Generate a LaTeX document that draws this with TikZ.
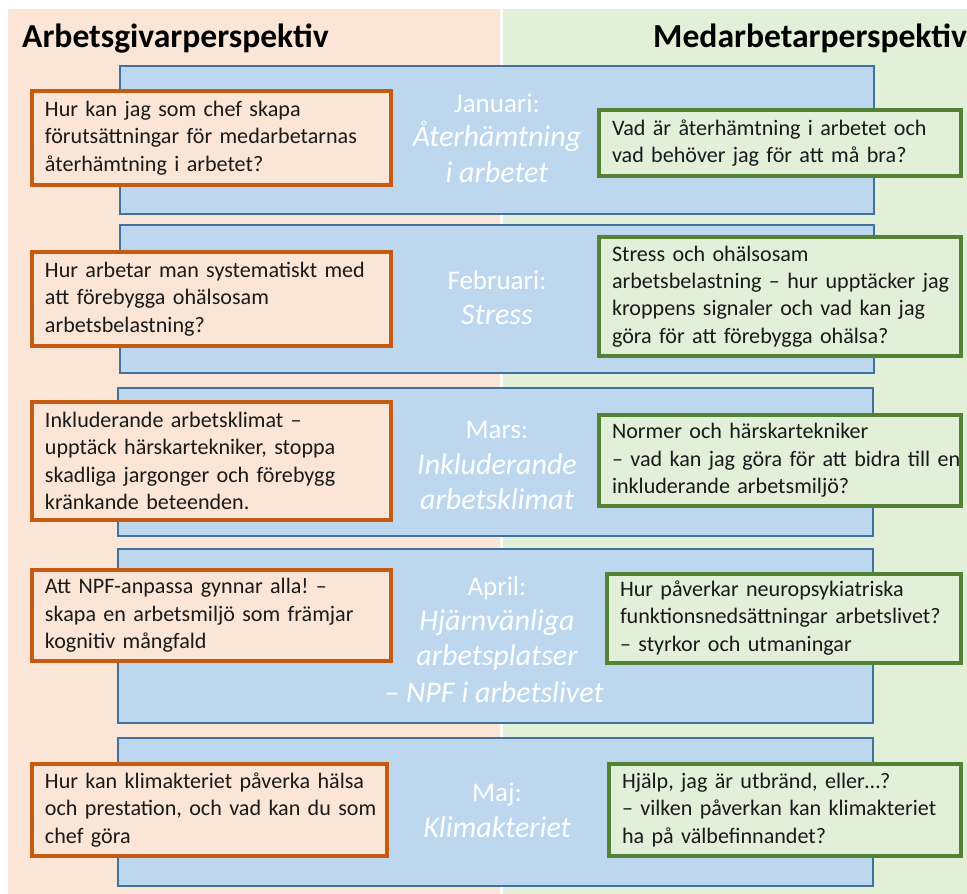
\documentclass[tikz,border=0pt]{standalone}
\usepackage{fontspec}
\setmainfont{Carlito}
\frenchspacing
\definecolor{peach}{HTML}{FBE5D6}
\definecolor{mint}{HTML}{E2F0D9}
\definecolor{skyfill}{HTML}{BDD7EE}
\definecolor{skyline}{HTML}{41719C}
\definecolor{rust}{HTML}{C55A11}
\definecolor{leaf}{HTML}{548235}
\definecolor{ink}{HTML}{1A1A1A}
% one unbreakable line of box text
\newcommand\boxline[1]{\mbox{#1}}
\tikzset{
  monthbox/.style={fill=skyfill, draw=skyline, line width=2pt},
  askbox/.style={draw=rust, fill=peach, line width=4pt, align=left, text=ink,
    inner xsep=13pt, inner ysep=0pt, font=\fontsize{22.1}{27.3}\selectfont},
  staffbox/.style={draw=leaf, fill=mint, line width=4pt, align=left, text=ink,
    inner xsep=13pt, inner ysep=0pt, font=\fontsize{22.1}{27.3}\selectfont},
  monthname/.style={anchor=base, text=white, inner sep=0pt, font=\fontsize{27}{30}\selectfont},
  theme/.style={anchor=base, text=white, inner sep=0pt, font=\fontsize{30}{34}\selectfont\itshape},
  heading/.style={anchor=base west, inner sep=0pt, text=black, font=\fontsize{33.6}{38}\selectfont\bfseries}
}
\begin{document}
\begin{tikzpicture}[x=1pt, y=-1pt]
\useasboundingbox (0,0) rectangle (967,894);
\clip (0,0) rectangle (967,894);
\fill[white] (0,0) rectangle (967,894);
% two perspective columns
\fill[peach] (8,9) rectangle (500,894);
\fill[mint] (503,9) rectangle (967,894);
\node[heading] (hleft) at (22,47) {Arbetsgivarperspektiv};
\node[heading] (hright) at (653,47) {Medarbetarperspektiv};

% month bands
\draw[monthbox] (120,66) rectangle (874,214);
\draw[monthbox] (120,225) rectangle (874,373);
\draw[monthbox] (118,388) rectangle (873,536);
\draw[monthbox] (118,549) rectangle (873,723);
\draw[monthbox] (118,738) rectangle (873,886);

% month titles
\node[monthname] (m1) at (497,112) {Januari:};
\node[theme] (t1a) at (497,146) {Återhämtning};
\node[theme] (t1b) at (497,182) {i arbetet};
\node[monthname] (m2) at (497,289) {Februari:};
\node[theme] (t2a) at (497,324) {Stress};
\node[monthname] (m3) at (497,438) {Mars:};
\node[theme] (t3a) at (497,474) {Inkluderande};
\node[theme] (t3b) at (497,509) {arbetsklimat};
\node[monthname] (m4) at (497,595) {April:};
\node[theme] (t4a) at (497,630) {Hjärnvänliga};
\node[theme] (t4b) at (497,665) {arbetsplatser};
\node[theme] (t4c) at (494,702) {– NPF i arbetslivet};
\node[monthname] (m5) at (497,801) {Maj:};
\node[theme] (t5a) at (497,837) {Klimakteriet};

% employer questions
\node[askbox, text width=333pt, minimum height=94pt] (a1) at (211.5,138)
  {\boxline{Hur kan jag som chef skapa}\\\boxline{förutsättningar för medarbetarnas}\\\boxline{återhämtning i arbetet?}};
\node[askbox, text width=333pt, minimum height=94pt] (a2) at (211.5,299)
  {\boxline{Hur arbetar man systematiskt med}\\\boxline{att förebygga ohälsosam}\\\boxline{arbetsbelastning?}};
\node[askbox, text width=333pt, minimum height=118pt] (a3) at (211.5,461)
  {\boxline{Inkluderande arbetsklimat –}\\\boxline{upptäck härskartekniker, stoppa}\\\boxline{skadliga jargonger och förebygg}\\\boxline{kränkande beteenden.}};
\node[askbox, text width=333pt, minimum height=91pt] (a4) at (211.5,615.5)
  {\boxline{Att NPF-anpassa gynnar alla! –}\\\boxline{skapa en arbetsmiljö som främjar}\\\boxline{kognitiv mångfald}};
\node[askbox, text width=329pt, minimum height=92pt] (a5) at (209.5,810)
  {\boxline{Hur kan klimakteriet påverka hälsa}\\\boxline{och prestation, och vad kan du som}\\\boxline{chef göra}};

% employee questions
\node[staffbox, text width=336pt, minimum height=66pt] (s1) at (780,143)
  {\boxline{Vad är återhämtning i arbetet och}\\\boxline{vad behöver jag för att må bra?}};
\node[staffbox, text width=336pt, minimum height=119pt] (s2) at (780,296.5)
  {\boxline{Stress och ohälsosam}\\\boxline{arbetsbelastning – hur upptäcker jag}\\\boxline{kroppens signaler och vad kan jag}\\\boxline{göra för att förebygga ohälsa?}};
\node[staffbox, text width=336pt, minimum height=91pt] (s3) at (780,460.5)
  {\boxline{Normer och härskartekniker}\\\boxline{– vad kan jag göra för att bidra till en}\\\boxline{inkluderande arbetsmiljö?}};
\node[staffbox, text width=328pt, minimum height=89pt] (s4) at (784,618)
  {\boxline{Hur påverkar neuropsykiatriska}\\\boxline{funktionsnedsättningar arbetslivet?}\\\boxline{– styrkor och utmaningar}};
\node[staffbox, text width=326pt, minimum height=92pt] (s5) at (785,810)
  {\boxline{Hjälp, jag är utbränd, eller…?}\\\boxline{– vilken påverkan kan klimakteriet}\\\boxline{ha på välbefinnandet?}};
\end{tikzpicture}
\end{document}
